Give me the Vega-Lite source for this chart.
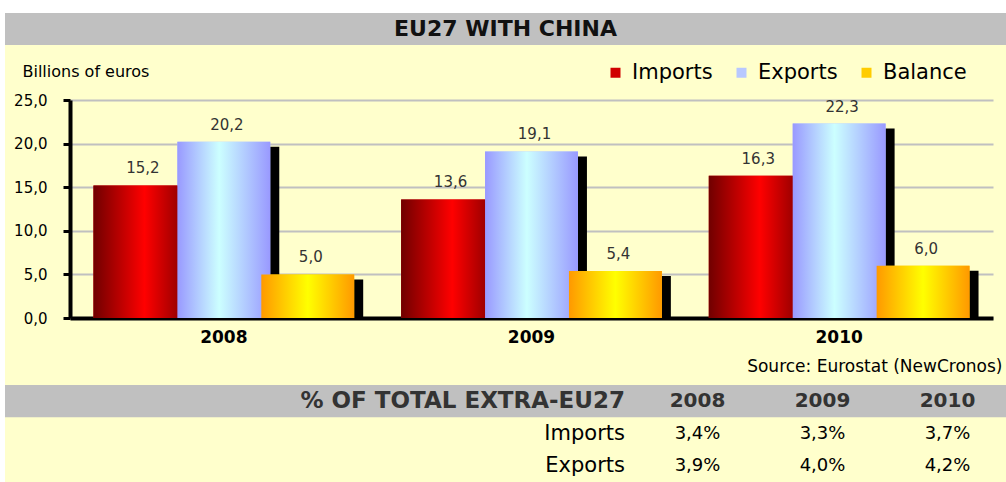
{
  "$schema": "https://vega.github.io/schema/vega-lite/v6.json",
  "background": "white",
  "padding": {"left": 5, "top": 13, "right": 0, "bottom": 0},
  "spacing": 0,
  "config": {
    "locale": {"number": {"decimal": ",", "thousands": ".", "grouping": [3], "currency": ["", " €"]}},
    "font": "DejaVu Sans",
    "concat": {"spacing": 0}
  },
  "datasets": {
    "title": [{"text": "EU27 WITH CHINA"}],
    "bars": [
      {"year": "2008", "series": "Imports", "value": 15.2},
      {"year": "2008", "series": "Exports", "value": 20.2},
      {"year": "2008", "series": "Balance", "value": 5.0},
      {"year": "2009", "series": "Imports", "value": 13.6},
      {"year": "2009", "series": "Exports", "value": 19.1},
      {"year": "2009", "series": "Balance", "value": 5.4},
      {"year": "2010", "series": "Imports", "value": 16.3},
      {"year": "2010", "series": "Exports", "value": 22.3},
      {"year": "2010", "series": "Balance", "value": 6.0}
    ],
    "table": [
      {"row": "header", "col": "label", "text": "% OF TOTAL EXTRA-EU27"},
      {"row": "header", "col": "2008", "text": "2008"},
      {"row": "header", "col": "2009", "text": "2009"},
      {"row": "header", "col": "2010", "text": "2010"},
      {"row": "Imports", "col": "label", "text": "Imports"},
      {"row": "Imports", "col": "2008", "value": 0.034},
      {"row": "Imports", "col": "2009", "value": 0.033},
      {"row": "Imports", "col": "2010", "value": 0.037},
      {"row": "Exports", "col": "label", "text": "Exports"},
      {"row": "Exports", "col": "2008", "value": 0.039},
      {"row": "Exports", "col": "2009", "value": 0.040},
      {"row": "Exports", "col": "2010", "value": 0.042}
    ]
  },
  "vconcat": [
    {
      "width": 1001,
      "height": 32,
      "view": {"fill": "#C0C0C0", "stroke": null},
      "data": {"name": "title"},
      "mark": {"type": "text", "font": "DejaVu Sans", "fontWeight": "bold", "fontSize": 22, "color": "#111111"},
      "encoding": {"text": {"field": "text", "type": "nominal"}}
    },
    {
      "width": 1001,
      "height": 340,
      "view": {"fill": "#FFFFCC", "stroke": null},
      "data": {"name": "bars"},
      "resolve": {"scale": {"xOffset": "independent"}},
      "encoding": {
        "x": {
          "field": "year", "type": "nominal",
          "scale": {"type": "band", "range": [65, 988], "paddingInner": 0, "paddingOuter": 0},
          "axis": {
            "orient": "bottom", "offset": -67, "domainColor": "black", "domainWidth": 4,
            "ticks": false, "tickSize": 0, "labelAngle": 0,
            "labelFont": "DejaVu Sans", "labelFontWeight": "bold", "labelFontSize": 17, "labelColor": "black", "labelPadding": 11,
            "title": "Source: Eurostat (NewCronos)", "titleFont": "DejaVu Sans", "titleFontWeight": "normal", "titleFontSize": 17,
            "titleColor": "black", "titleX": 997, "titleY": 48, "titleAlign": "right", "titleBaseline": "middle", "grid": false
          }
        },
        "xOffset": {
          "field": "series", "type": "nominal",
          "scale": {"type": "band", "domain": ["Imports", "Exports", "Balance"], "paddingInner": 0, "paddingOuter": 0.333, "align": 0.714}
        },
        "y": {
          "field": "value", "type": "quantitative", "stack": null,
          "scale": {"domain": [0, 25], "range": [273, 55], "nice": false},
          "axis": {
            "offset": -65, "values": [0, 5, 10, 15, 20, 25], "format": ".1f",
            "domainColor": "black", "domainWidth": 4, "tickColor": "black", "tickSize": 7, "tickWidth": 3,
            "labelFont": "DejaVu Sans", "labelFontSize": 15, "labelColor": "black", "labelPadding": 16,
            "grid": true, "gridColor": "#C0C0C0", "gridWidth": 2,
            "title": "Billions of euros", "titleAngle": 0, "titleX": -48, "titleY": 26, "titleAlign": "left",
            "titleBaseline": "middle", "titleFont": "DejaVu Sans", "titleFontSize": 16, "titleFontWeight": "normal", "titleColor": "black"
          }
        }
      },
      "layer": [
        {
          "mark": {"type": "bar", "color": "black", "width": {"band": 1.107}, "yOffset": 5},
          "encoding": {
            "xOffset": {
              "field": "series", "type": "nominal",
              "scale": {"type": "band", "domain": ["Imports", "Exports", "Balance"], "paddingInner": 0, "paddingOuter": 0.333, "align": 0.875}
            }
          }
        },
        {
          "mark": {"type": "bar", "width": {"band": 1.107}},
          "encoding": {
            "color": {
              "field": "series", "type": "nominal",
              "scale": {"domain": ["Imports", "Exports", "Balance"], "range": ["#D00000", "#B8C8FF", "#FFCC00"]},
              "legend": {
                "orient": "none", "legendX": 600, "legendY": 49, "direction": "horizontal", "title": null,
                "symbolType": "square", "symbolSize": 100, "symbolStrokeWidth": 0, "symbolOpacity": 1,
                "labelFont": "DejaVu Sans", "labelFontSize": 21, "labelColor": "black", "labelOffset": 6, "columnPadding": 18
              }
            }
          }
        },
        {
          "transform": [{"filter": "datum.series === 'Imports'"}],
          "mark": {"type": "bar", "width": {"band": 1.107},
            "fill": {"gradient": "linear", "x1": 0, "y1": 0, "x2": 1, "y2": 0,
              "stops": [{"offset": 0, "color": "#700000"}, {"offset": 0.55, "color": "#FF0000"}, {"offset": 1, "color": "#850000"}]}}
        },
        {
          "transform": [{"filter": "datum.series === 'Exports'"}],
          "mark": {"type": "bar", "width": {"band": 1.107},
            "fill": {"gradient": "linear", "x1": 0, "y1": 0, "x2": 1, "y2": 0,
              "stops": [{"offset": 0, "color": "#9999FF"}, {"offset": 0.45, "color": "#CCFFFF"}, {"offset": 1, "color": "#9999FF"}]}}
        },
        {
          "transform": [{"filter": "datum.series === 'Balance'"}],
          "mark": {"type": "bar", "width": {"band": 1.107},
            "fill": {"gradient": "linear", "x1": 0, "y1": 0, "x2": 1, "y2": 0,
              "stops": [{"offset": 0, "color": "#FF9900"}, {"offset": 0.5, "color": "#FFFF00"}, {"offset": 1, "color": "#FF9900"}]}}
        },
        {
          "mark": {"type": "text", "font": "DejaVu Sans", "fontSize": 15, "color": "#333333", "baseline": "alphabetic", "dy": -12, "dx": 3},
          "encoding": {
            "xOffset": {
              "field": "series", "type": "nominal",
              "scale": {"type": "band", "domain": ["Imports", "Exports", "Balance"], "paddingInner": 0, "paddingOuter": 0.333, "align": 0.5}
            },
            "text": {"field": "value", "type": "quantitative", "format": ".1f"}
          }
        }
      ]
    },
    {
      "width": 1001,
      "height": 97,
      "view": {"fill": "#FFFFCC", "stroke": null},
      "data": {"name": "table"},
      "encoding": {
        "x": {"field": "col", "type": "nominal",
          "scale": {"type": "band", "domain": ["label", "2008", "2009", "2010"], "range": [505, 1005], "paddingInner": 0, "paddingOuter": 0}, "axis": null},
        "y": {"field": "row", "type": "nominal",
          "scale": {"type": "band", "domain": ["header", "Imports", "Exports"], "paddingInner": 0, "paddingOuter": 0}, "axis": null}
      },
      "layer": [
        {
          "transform": [{"filter": "datum.row === 'header' && datum.col === 'label'"}],
          "mark": {"type": "rect", "color": "#C0C0C0"},
          "encoding": {"x": {"value": 0}, "x2": {"value": "width"}}
        },
        {
          "transform": [{"filter": "datum.row === 'header' && datum.col === 'label'"}],
          "mark": {"type": "text", "align": "right", "dx": -10, "font": "DejaVu Sans", "fontWeight": "bold", "fontSize": 23, "color": "#333333"},
          "encoding": {"x": {"field": "col", "type": "nominal", "bandPosition": 1}, "text": {"field": "text", "type": "nominal"}}
        },
        {
          "transform": [{"filter": "datum.row === 'header' && datum.col !== 'label'"}],
          "mark": {"type": "text", "font": "DejaVu Sans", "fontWeight": "bold", "fontSize": 20, "color": "#333333"},
          "encoding": {"text": {"field": "text", "type": "nominal"}}
        },
        {
          "transform": [{"filter": "datum.row !== 'header' && datum.col === 'label'"}],
          "mark": {"type": "text", "align": "right", "dx": -10, "font": "DejaVu Sans", "fontSize": 21, "color": "black"},
          "encoding": {"x": {"field": "col", "type": "nominal", "bandPosition": 1}, "text": {"field": "text", "type": "nominal"}}
        },
        {
          "transform": [{"filter": "datum.row !== 'header' && datum.col !== 'label'"}],
          "mark": {"type": "text", "font": "DejaVu Sans", "fontSize": 18, "color": "black"},
          "encoding": {"text": {"field": "value", "type": "quantitative", "format": ".1%"}}
        }
      ]
    }
  ]
}
